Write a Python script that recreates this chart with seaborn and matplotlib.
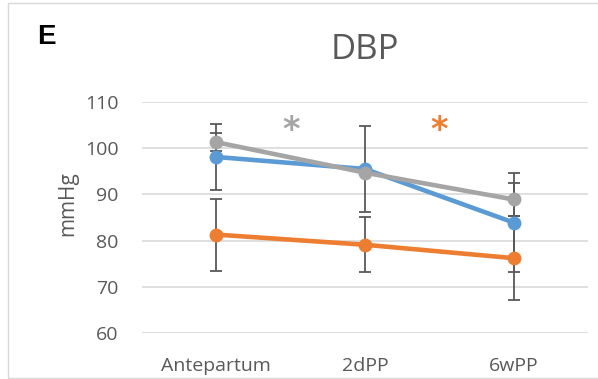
"""DBP across pregnancy time points, three groups with error bars."""

import matplotlib

matplotlib.use("Agg")
import matplotlib.pyplot as plt
import numpy as np
import pandas as pd
import seaborn as sns
from matplotlib.patches import Rectangle

# values
categories = ["Antepartum", "2dPP", "6wPP"]
groups = ["blue", "orange", "grey"]
blue_mean = [98.1, 95.5, 83.9]
blue_err = [7.2, 9.3, 10.7]
orange_mean = [81.3, 79.1, 76.2]
orange_err = [7.8, 6.0, 9.1]
grey_mean = [101.3, 94.7, 88.9]
grey_err = [1.9, 0.4, 3.6]
y_ticks = [60, 70, 80, 90, 100, 110]
star_pos = [0.5, 1.5]  # between time points
star_y = [103.8, 103.9]
star_groups = ["grey", "orange"]

colors = {"blue": "#5B9BD5", "orange": "#ED7D31", "grey": "#A5A5A5"}
text_col = "#595959"

sns.set_theme(style="white")
plt.rcParams["font.family"] = ["Open Sans", "DejaVu Sans"]

means = {"blue": blue_mean, "orange": orange_mean, "grey": grey_mean}
errs = {"blue": blue_err, "orange": orange_err, "grey": grey_err}

df = pd.DataFrame(
    [
        {"time": c, "group": g, "value": means[g][i]}
        for g in groups
        for i, c in enumerate(categories)
    ]
)

fig = plt.figure(figsize=(5.98, 3.79), dpi=100)
ax = fig.add_axes([142 / 598, 1 - 333 / 379, 446 / 598, 231 / 379])

# error bars under the lines
x_idx = np.arange(len(categories))
for g in groups:
    ax.errorbar(
        x_idx,
        means[g],
        yerr=errs[g],
        fmt="none",
        ecolor=text_col,
        elinewidth=1.3,
        capsize=4,
        capthick=1.3,
        zorder=2,
    )

sns.lineplot(
    data=df,
    x="time",
    y="value",
    hue="group",
    hue_order=groups,
    palette=colors,
    marker="o",
    markersize=10,
    markeredgewidth=0,
    linewidth=3.3,
    errorbar=None,
    legend=False,
    ax=ax,
    zorder=3,
)

for xs, ys, g in zip(star_pos, star_y, star_groups):
    ax.text(xs, ys, "*", color=colors[g], fontsize=24, fontweight="bold",
            ha="center", va="center", family="DejaVu Sans")

ax.set_xlim(-0.5, 2.5)
ax.set_ylim(60, 110)
ax.set_yticks(y_ticks)
ax.set_xticks(x_idx)
ax.set_xticklabels(categories)
ax.grid(axis="y", color="#D9D9D9", linewidth=1.2)
ax.set_axisbelow(True)
for s in ax.spines.values():
    s.set_visible(False)
ax.tick_params(axis="both", length=0, labelsize=14, colors=text_col)
ax.tick_params(axis="y", pad=17)
ax.tick_params(axis="x", pad=17)
ax.set_xlabel("")
ax.set_ylabel("mmHg", fontsize=15, color=text_col)
ax.yaxis.set_label_coords(-0.1435, 0.558)

fig.text(365 / 598, 1 - 50 / 379, "DBP", fontsize=25, color=text_col,
         ha="center", va="center")
fig.text(37 / 598, 1 - 44 / 379, "E", fontsize=20, fontweight="bold",
         family="Liberation Sans", color="black", ha="left", va="baseline")

# chart area border
fig.patches.append(
    Rectangle((8 / 598, 1 - 378 / 379), 600 / 598, 375 / 379,
              transform=fig.transFigure, fill=False, edgecolor="#D9D9D9",
              linewidth=1)
)

fig.savefig("out.png", dpi=100)
plt.close(fig)
